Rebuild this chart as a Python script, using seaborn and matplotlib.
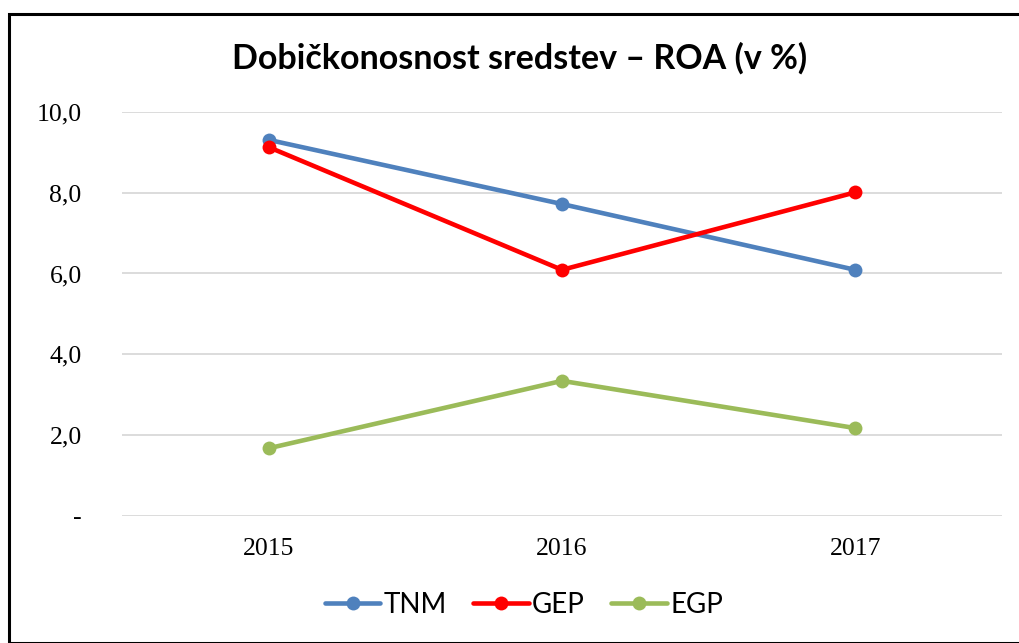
import matplotlib
matplotlib.use("Agg")
import matplotlib.pyplot as plt
import seaborn as sns
import pandas as pd
from matplotlib.ticker import FuncFormatter
from matplotlib.patches import Rectangle
from matplotlib.lines import Line2D

years = ["2015", "2016", "2017"]
tnm = [9.31, 7.72, 6.09]
gep = [9.13, 6.09, 8.01]
egp = [1.67, 3.34, 2.17]
series_names = ["TNM", "GEP", "EGP"]
colors = ["#4F81BD", "#FF0000", "#9BBB59"]
yticks = [0, 2, 4, 6, 8, 10]

df = pd.DataFrame({
    "year": years * 3,
    "value": tnm + gep + egp,
    "series": [s for s in series_names for _ in years],
})

sns.set_theme(style="white")
plt.rcParams["font.family"] = ["Liberation Serif", "DejaVu Serif"]
plt.rcParams["text.color"] = "black"

fig = plt.figure(figsize=(10.19, 6.43), dpi=100)
W, H = 1019, 643
ax = fig.add_axes([122 / W, 1 - 515.7 / H, (1002 - 122) / W, (515.7 - 112) / H])

sns.lineplot(data=df, x="year", y="value", hue="series", hue_order=series_names,
             palette=colors, marker="o", markersize=10, markeredgewidth=0,
             linewidth=3.3, ax=ax, legend=False, sort=False)

ax.set_xlim(-0.5, 2.5)
ax.set_ylim(0, 10)
ax.set_yticks(yticks)
ax.yaxis.set_major_formatter(FuncFormatter(lambda v, p: "-" if abs(v) < 1e-9 else f"{v:.1f}".replace(".", ",")))
ax.grid(axis="y", color="#D9D9D9", linewidth=1.3)
ax.set_axisbelow(True)
for s in ax.spines.values():
    s.set_visible(False)
ax.tick_params(axis="both", length=0, labelsize=18.5, colors="black")
ax.tick_params(axis="y", pad=29)
ax.tick_params(axis="x", pad=16)
ax.set_xlabel("")
ax.set_ylabel("")

fig.text(520 / W, 1 - 58 / H, "Dobičkonosnost sredstev – ROA (v %)", ha="center", va="center",
         fontsize=24.5, fontweight="bold", color="black", family=["Lato", "DejaVu Sans"])

handles = [Line2D([0], [0], color=c, lw=3.3, marker="o", markersize=10, markeredgewidth=0)
           for c in colors]
leg = fig.legend(handles, series_names, loc="center", bbox_to_anchor=(524 / W, 1 - 605 / H),
                 ncol=3, frameon=False, prop={"family": "Lato", "size": 20},
                 handlelength=2.0, handletextpad=0.12, columnspacing=0.95)
for t in leg.get_texts():
    t.set_color("black")

fig.patches.append(Rectangle((8.5 / W, 0), 1.2, 1 - 13.5 / H, transform=fig.transFigure,
                             fill=False, edgecolor="black", linewidth=2.2, clip_on=False))

fig.savefig("out.png", dpi=100, facecolor="white")
